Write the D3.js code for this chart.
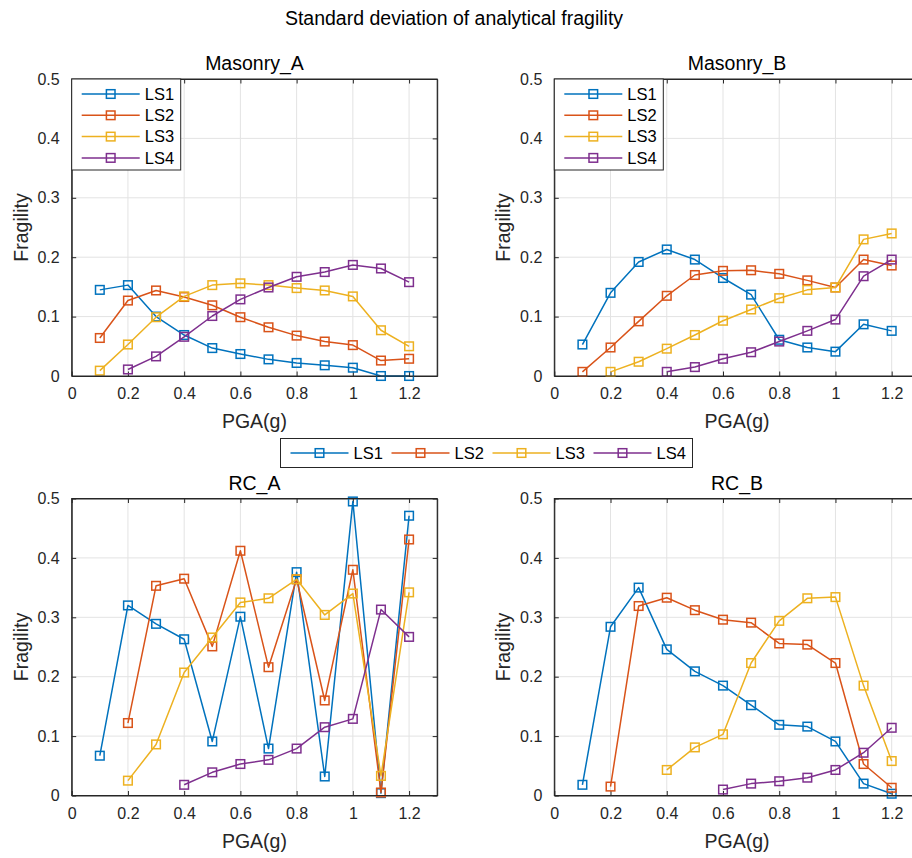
<!DOCTYPE html>
<html>
<head>
<meta charset="utf-8">
<script src="https://cdn.jsdelivr.net/npm/d3@7"></script>
<style>
  body { margin: 0; background: #fff; }
  svg { display: block; font-family: "Liberation Sans", Arial, Helvetica, sans-serif; }
</style>
</head>
<body>
<svg id="chart" width="912" height="858"></svg>
<script>
const pga = [0.1,0.2,0.3,0.4,0.5,0.6,0.7,0.8,0.9,1.0,1.1,1.2];
const seriesNames = ["LS1","LS2","LS3","LS4"];
const seriesColors = ["#0072BD","#D95319","#EDB120","#7E2F8E"];
const xTicks = [0,0.2,0.4,0.6,0.8,1,1.2];
const yTicks = [0,0.1,0.2,0.3,0.4,0.5];
const panelTitles = ["Masonry_A","Masonry_B","RC_A","RC_B"];

const masonryA_LS1 = [0.145,0.153,0.100,0.069,0.047,0.037,0.028,0.022,0.018,0.014,0,0];
const masonryA_LS2 = [0.064,0.127,0.144,0.133,0.119,0.099,0.082,0.068,0.058,0.052,0.026,0.029];
const masonryA_LS3 = [0.009,0.053,0.099,0.134,0.153,0.156,0.153,0.148,0.144,0.134,0.077,0.050];
const masonryA_LS4 = [null,0.011,0.033,0.066,0.101,0.129,0.149,0.167,0.175,0.187,0.181,0.158];

const masonryB_LS1 = [0.053,0.140,0.192,0.213,0.196,0.165,0.137,0.061,0.048,0.041,0.087,0.076];
const masonryB_LS2 = [0.007,0.048,0.092,0.135,0.170,0.177,0.178,0.172,0.161,0.149,0.196,0.186];
const masonryB_LS3 = [null,0.007,0.024,0.046,0.069,0.093,0.112,0.131,0.145,0.149,0.230,0.240];
const masonryB_LS4 = [null,null,null,0.007,0.015,0.029,0.040,0.058,0.076,0.095,0.168,0.196];

const rcA_LS1 = [0.067,0.320,0.289,0.263,0.091,0.301,0.079,0.376,0.032,0.495,0.004,0.471];
const rcA_LS2 = [null,0.122,0.353,0.365,0.251,0.412,0.216,0.364,0.160,0.380,0.005,0.431];
const rcA_LS3 = [null,0.025,0.086,0.207,0.266,0.325,0.332,0.364,0.304,0.340,0.033,0.342];
const rcA_LS4 = [null,null,null,0.018,0.039,0.053,0.060,0.079,0.115,0.129,0.313,0.267];

const rcB_LS1 = [0.018,0.284,0.350,0.246,0.209,0.185,0.152,0.119,0.116,0.091,0.020,0.003];
const rcB_LS2 = [null,0.015,0.319,0.333,0.312,0.296,0.291,0.256,0.254,0.223,0.053,0.013];
const rcB_LS3 = [null,null,null,0.043,0.081,0.103,0.223,0.294,0.332,0.334,0.185,0.058];
const rcB_LS4 = [null,null,null,null,null,0.010,0.020,0.024,0.030,0.043,0.072,0.114];

const panelData = [
  [masonryA_LS1, masonryA_LS2, masonryA_LS3, masonryA_LS4],
  [masonryB_LS1, masonryB_LS2, masonryB_LS3, masonryB_LS4],
  [rcA_LS1, rcA_LS2, rcA_LS3, rcA_LS4],
  [rcB_LS1, rcB_LS2, rcB_LS3, rcB_LS4]
];

const svg = d3.select("#chart");
const axisColor = "#262626";
const gridColor = "#e3e3e3";

const W = 365.5, H = 297;
const panelPos = [
  {x: 71.7, y: 79},
  {x: 554.3, y: 79},
  {x: 71.7, y: 498.5},
  {x: 554.3, y: 498.5}
];

svg.append("text")
  .attr("x", 454).attr("y", 25)
  .attr("text-anchor", "middle")
  .attr("font-size", 19.5)
  .attr("fill", "#000")
  .text("Standard deviation of analytical fragility");

function drawMarker(g, cx, cy, color) {
  g.append("rect")
    .attr("x", cx - 4.3).attr("y", cy - 4.3)
    .attr("width", 8.6).attr("height", 8.6)
    .attr("fill", "none").attr("stroke", color).attr("stroke-width", 1.5);
}

panelPos.forEach((p, pi) => {
  const x = d3.scaleLinear().domain([0, 1.3]).range([0, W]);
  const y = d3.scaleLinear().domain([0, 0.5]).range([H, 0]);
  const g = svg.append("g").attr("transform", `translate(${p.x},${p.y})`);

  g.append("rect").attr("width", W).attr("height", H).attr("fill", "#fff");

  // grid
  g.append("g").selectAll("line").data(xTicks.filter(t => t > 0)).join("line")
    .attr("x1", d => x(d)).attr("x2", d => x(d)).attr("y1", 0).attr("y2", H)
    .attr("stroke", gridColor).attr("stroke-width", 1);
  g.append("g").selectAll("line").data(yTicks.filter(t => t > 0 && t < 0.5)).join("line")
    .attr("y1", d => y(d)).attr("y2", d => y(d)).attr("x1", 0).attr("x2", W)
    .attr("stroke", gridColor).attr("stroke-width", 1);

  // axes (ticks inward)
  const fmt = d3.format("~g");
  const xAxis = g.append("g").attr("transform", `translate(0,${H})`)
    .call(d3.axisBottom(x).tickValues(xTicks).tickFormat(fmt).tickSizeInner(-4.5).tickSizeOuter(0).tickPadding(20));
  const yAxis = g.append("g")
    .call(d3.axisLeft(y).tickValues(yTicks).tickFormat(fmt).tickSizeInner(-4.5).tickSizeOuter(0).tickPadding(12));
  const xTop = g.append("g")
    .call(d3.axisTop(x).tickValues(xTicks).tickFormat("").tickSizeInner(-4.5).tickSizeOuter(0));
  const yRight = g.append("g").attr("transform", `translate(${W},0)`)
    .call(d3.axisRight(y).tickValues(yTicks).tickFormat("").tickSizeInner(-4.5).tickSizeOuter(0));
  [xAxis, yAxis, xTop, yRight].forEach(a => {
    a.select(".domain").attr("stroke", axisColor).attr("stroke-width", 1);
    a.selectAll(".tick line").attr("stroke", axisColor).attr("stroke-width", 1);
    a.selectAll(".tick text").attr("fill", axisColor).attr("font-size", 16)
      .attr("font-family", '"Liberation Sans", Arial, Helvetica, sans-serif');
  });
  xAxis.selectAll(".tick text").attr("dy", "0.2em");

  // labels
  svg.append("text")
    .attr("x", p.x + x(0.65)).attr("y", p.y + H + 52)
    .attr("text-anchor", "middle").attr("font-size", 19.5).attr("fill", axisColor)
    .text("PGA(g)");
  svg.append("text")
    .attr("transform", `translate(${p.x - 44},${p.y + H / 2}) rotate(-90)`)
    .attr("text-anchor", "middle").attr("font-size", 19.5).attr("fill", axisColor)
    .text("Fragility");
  svg.append("text")
    .attr("x", p.x + x(0.65)).attr("y", p.y - 9)
    .attr("text-anchor", "middle").attr("font-size", 19.5).attr("fill", "#000")
    .text(panelTitles[pi]);

  // series
  panelData[pi].forEach((vals, si) => {
    const pts = pga.map((v, i) => ({x: v, y: vals[i]})).filter(d => d.y !== null);
    const line = d3.line().x(d => x(d.x)).y(d => y(d.y));
    g.append("path").datum(pts).attr("d", line)
      .attr("fill", "none").attr("stroke", seriesColors[si]).attr("stroke-width", 1.5)
      .attr("stroke-linejoin", "round");
    pts.forEach(d => drawMarker(g, x(d.x), y(d.y), seriesColors[si]));
  });

  // box outline
  g.append("rect").attr("width", W).attr("height", H)
    .attr("fill", "none").attr("stroke", axisColor).attr("stroke-width", 1);

  // inner legends for top panels
  if (pi < 2) {
    const lg = g.append("g");
    lg.append("rect").attr("x", 0).attr("y", 0).attr("width", 109).attr("height", 91)
      .attr("fill", "#fff").attr("stroke", axisColor).attr("stroke-width", 1);
    seriesNames.forEach((n, si) => {
      const ry = 15 + si * 21.3;
      lg.append("line").attr("x1", 10).attr("x2", 68).attr("y1", ry).attr("y2", ry)
        .attr("stroke", seriesColors[si]).attr("stroke-width", 1.5);
      drawMarker(lg, 39, ry, seriesColors[si]);
      lg.append("text").attr("x", 73).attr("y", ry).attr("dy", "0.35em")
        .attr("font-size", 16.5).attr("fill", "#000").text(n);
    });
  }
});

// global legend
const gl = svg.append("g").attr("transform", "translate(280.5,438.5)");
gl.append("rect").attr("width", 412).attr("height", 29)
  .attr("fill", "#fff").attr("stroke", axisColor).attr("stroke-width", 1);
seriesNames.forEach((n, si) => {
  const ox = 10 + si * 101;
  const ry = 14.5;
  gl.append("line").attr("x1", ox).attr("x2", ox + 58).attr("y1", ry).attr("y2", ry)
    .attr("stroke", seriesColors[si]).attr("stroke-width", 1.5);
  drawMarker(gl, ox + 29, ry, seriesColors[si]);
  gl.append("text").attr("x", ox + 63).attr("y", ry).attr("dy", "0.35em")
    .attr("font-size", 16.5).attr("fill", "#000").text(n);
});
</script>
</body>
</html>
